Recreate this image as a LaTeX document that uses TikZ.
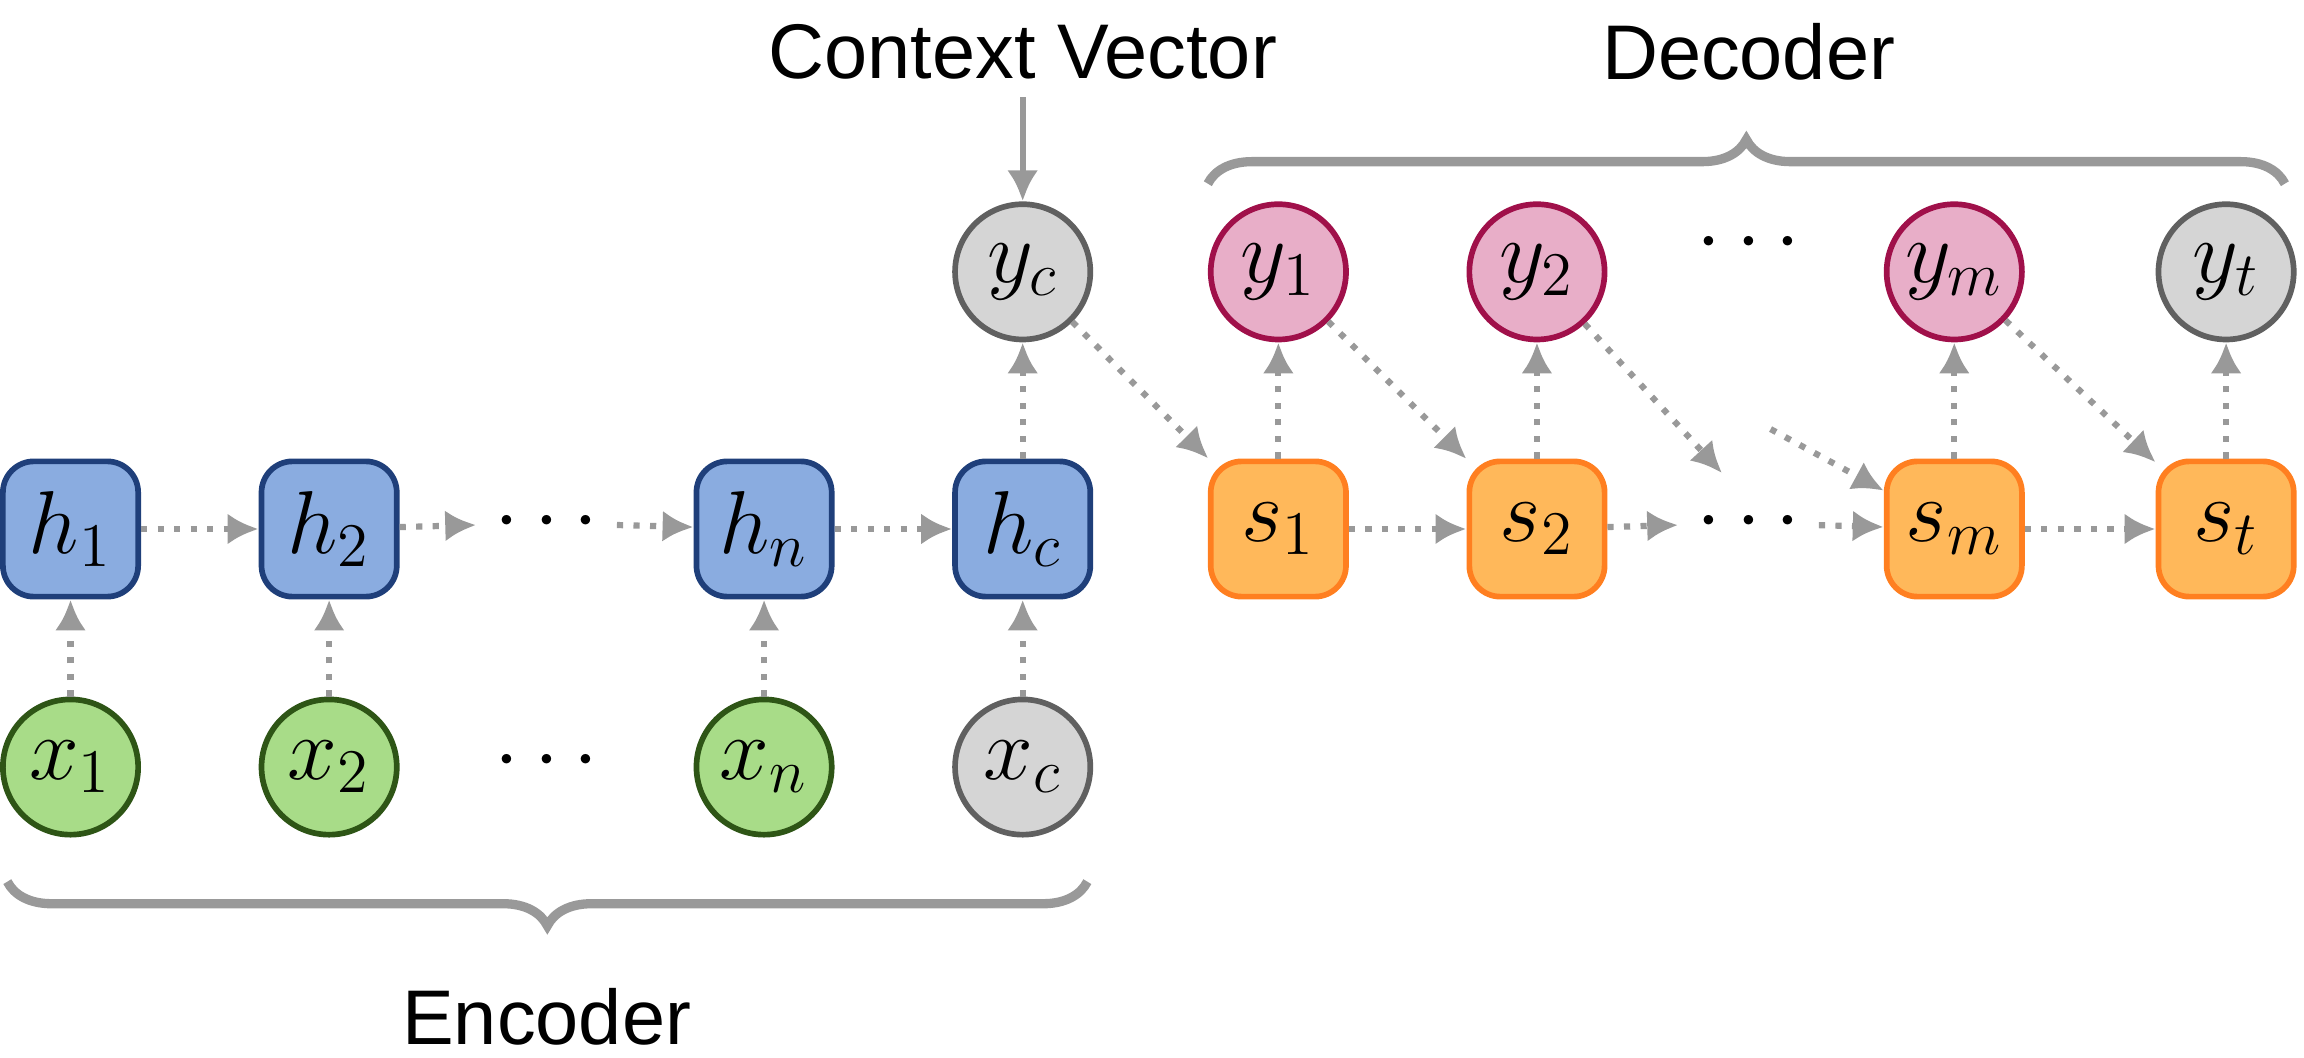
\documentclass[tikz,border=0pt]{standalone}
\usepackage{fontspec}
\setmainfont{Liberation Sans}
\usetikzlibrary{decorations.pathreplacing,arrows.meta}
\definecolor{hfill}{HTML}{8AACE0}\definecolor{hdraw}{HTML}{1F3F7A}
\definecolor{xfill}{HTML}{A8DC88}\definecolor{xdraw}{HTML}{2E5516}
\definecolor{gfill}{HTML}{D5D5D5}\definecolor{gdraw}{HTML}{606060}
\definecolor{yfill}{HTML}{E8AEC8}\definecolor{ydraw}{HTML}{A0104A}
\definecolor{sfill}{HTML}{FFB85A}\definecolor{sdraw}{HTML}{FF7F20}
\definecolor{arr}{HTML}{999999}
\tikzset{
  box/.style={rectangle, rounded corners=6pt, minimum size=0.92cm, line width=1.1pt, font=\fontsize{18}{20}\selectfont},
  circ/.style={circle, minimum size=0.92cm, inner sep=0pt, line width=1.1pt, font=\fontsize{18}{20}\selectfont},
  hbox/.style={box, fill=hfill, draw=hdraw},
  sbox/.style={box, fill=sfill, draw=sdraw},
  xnode/.style={circ, fill=xfill, draw=xdraw},
  ynode/.style={circ, fill=yfill, draw=ydraw},
  gnode/.style={circ, fill=gfill, draw=gdraw},
  flow/.style={arr, line width=1.2pt, dotted, -{Latex[length=6pt,width=6pt]}},
  label/.style={font=\fontsize{15}{18}\selectfont},
  dots/.style={font=\fontsize{18}{20}\selectfont},
  curly/.style={arr, line width=1.8pt, decorate, decoration={brace, amplitude=0.3cm}}
}
\begin{document}
\begin{tikzpicture}[x=0.01cm, y=-0.01cm]
  \useasboundingbox (0,0) rectangle (1568,720);
  % encoder
  \node[hbox] (h1) at (48,360) {$h_1$};
  \node[hbox] (h2) at (224,360) {$h_2$};
  \node[dots] (hd) at (372,356) {$\cdots$};
  \node[hbox] (hn) at (520,360) {$h_n$};
  \node[hbox] (hc) at (696,360) {$h_c$};
  \node[xnode] (x1) at (48,522) {$x_1$};
  \node[xnode] (x2) at (224,522) {$x_2$};
  \node[dots] (xd) at (372,518) {$\cdots$};
  \node[xnode] (xn) at (520,522) {$x_n$};
  \node[gnode] (xc) at (696,522) {$x_c$};
  \node[gnode] (yc) at (696,185) {$y_c$};
  % decoder
  \node[sbox] (s1) at (870,360) {$s_1$};
  \node[sbox] (s2) at (1046,360) {$s_2$};
  \node[dots] (sd) at (1190,356) {$\cdots$};
  \node[sbox] (sm) at (1330,360) {$s_m$};
  \node[sbox] (st) at (1515,360) {$s_t$};
  \node[ynode] (y1) at (870,185) {$y_1$};
  \node[ynode] (y2) at (1046,185) {$y_2$};
  \node[dots] (yd) at (1190,166) {$\cdots$};
  \node[ynode] (ym) at (1330,185) {$y_m$};
  \node[gnode] (yt) at (1515,185) {$y_t$};
  \coordinate (dgin) at (1172,322);
  \coordinate (dgout) at (1205,292);
  % labels
  \node[label] (ctx) at (696,35) {Context Vector};
  \node[label] (dec) at (1190,35) {Decoder};
  \node[label] (enc) at (372,692) {Encoder};
  \draw[arr, line width=1.2pt, -{Latex[length=6pt,width=6pt]}] (ctx) -- (yc);
  % connectors
  \foreach \a/\b in {x1/h1, x2/h2, xn/hn, xc/hc, hc/yc, s1/y1, s2/y2, sm/ym, st/yt,
                     h1/h2, h2/hd, hd/hn, hn/hc, s1/s2, s2/sd, sd/sm, sm/st,
                     yc/s1, y1/s2, y2/dgin, dgout/sm, ym/st}
    \draw[flow] (\a) -- (\b);
  % braces
  \draw[curly] (740,600) -- (5,600);
  \draw[curly] (822,125) -- (1555,125);
\end{tikzpicture}
\end{document}
